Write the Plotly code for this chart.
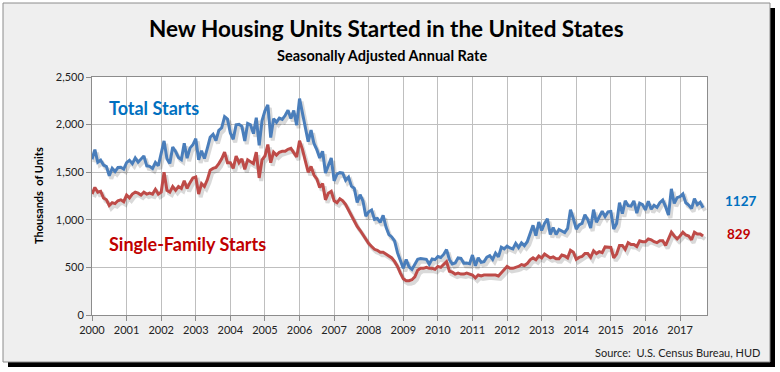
import plotly.graph_objects as go

# ---- data (thousands of units, SAAR), monthly Jan 2000 - Sep 2017 ----
total_starts = [
    1636, 1737, 1604, 1626, 1575, 1559, 1463, 1541, 1507, 1549, 1551, 1532,  # 2000
    1600, 1625, 1590, 1649, 1605, 1636, 1670, 1567, 1562, 1540, 1602, 1568,  # 2001
    1698, 1829, 1642, 1592, 1764, 1717, 1655, 1633, 1804, 1648, 1753, 1788,  # 2002
    1853, 1629, 1726, 1643, 1751, 1867, 1897, 1833, 1939, 1967, 2083, 2057,  # 2003
    1911, 1846, 1998, 2003, 1981, 1827, 2012, 1998, 1905, 2072, 1782, 2042,  # 2004
    2144, 2207, 1864, 2061, 2025, 2068, 2054, 2095, 2151, 2065, 2147, 1994,  # 2005
    2273, 2119, 1969, 1821, 1942, 1802, 1737, 1650, 1720, 1491, 1570, 1649,  # 2006
    1409, 1480, 1495, 1490, 1415, 1448, 1354, 1330, 1183, 1264, 1197, 1037,  # 2007
    1084, 1103, 1005, 1013, 973, 1046, 923, 844, 820, 777, 652, 560,         # 2008
    490, 582, 505, 478, 540, 585, 594, 586, 585, 534, 588, 581,              # 2009
    614, 604, 636, 687, 583, 536, 546, 599, 594, 543, 545, 539,              # 2010
    630, 517, 600, 554, 561, 608, 623, 585, 650, 610, 711, 694,              # 2011
    723, 704, 695, 753, 708, 757, 728, 770, 861, 942, 833, 976,              # 2012
    888, 962, 1010, 847, 919, 846, 899, 880, 867, 909, 1105, 1012,           # 2013
    902, 946, 962, 1052, 1002, 914, 1107, 974, 1029, 1090, 1035, 1083,       # 2014
    1087, 904, 961, 1180, 1064, 1199, 1148, 1144, 1199, 1070, 1174, 1159,    # 2015
    1104, 1194, 1111, 1152, 1130, 1180, 1207, 1138, 1049, 1325, 1172, 1233,  # 2016
    1244, 1272, 1179, 1155, 1118, 1223, 1159, 1183, 1127,                    # 2017
]
single_family_starts = [
    1270, 1340, 1290, 1300, 1230, 1210, 1150, 1180, 1170, 1200, 1210, 1190,  # 2000
    1260, 1230, 1270, 1290, 1280, 1260, 1290, 1270, 1280, 1270, 1320, 1270,  # 2001
    1290, 1500, 1310, 1290, 1350, 1310, 1350, 1330, 1410, 1330, 1390, 1440,  # 2002
    1450, 1270, 1380, 1350, 1420, 1520, 1540, 1550, 1590, 1640, 1710, 1600,  # 2003
    1600, 1540, 1670, 1600, 1640, 1530, 1630, 1610, 1590, 1710, 1440, 1630,  # 2004
    1670, 1790, 1600, 1710, 1680, 1710, 1720, 1720, 1740, 1750, 1710, 1660,  # 2005
    1830, 1740, 1620, 1500, 1560, 1470, 1430, 1340, 1380, 1210, 1280, 1300,  # 2006
    1200, 1180, 1220, 1200, 1160, 1100, 1040, 980, 930, 890, 840, 800,       # 2007
    750, 720, 690, 680, 660, 660, 640, 620, 600, 560, 510, 440,              # 2008
    380, 360, 360, 370, 400, 470, 490, 490, 500, 490, 490, 480,              # 2009
    510, 500, 530, 560, 460, 450, 430, 440, 430, 430, 440, 430,              # 2010
    420, 390, 420, 410, 420, 420, 420, 420, 420, 410, 440, 470,              # 2011
    510, 490, 490, 500, 510, 530, 520, 540, 580, 600, 580, 620,              # 2012
    600, 640, 620, 600, 610, 590, 590, 630, 620, 600, 680, 660,              # 2013
    585, 605, 615, 645, 645, 605, 675, 645, 665, 655, 715, 715,              # 2014
    710, 600, 640, 730, 730, 690, 760, 740, 740, 720, 780, 770,              # 2015
    770, 800, 790, 770, 760, 780, 780, 730, 800, 870, 830, 800,              # 2016
    830, 870, 840, 830, 790, 870, 850, 850, 829,                             # 2017
]
start_year = 2000
year_ticks = list(range(2000, 2018))
y_ticks = [0, 500, 1000, 1500, 2000, 2500]

months = [start_year + i / 12 for i in range(len(total_starts))]

W, H = 780, 372
L, R, T, B = 92, 73, 77, 57
pw, ph = W - L - R, H - T - B
X_SPAN = 17.78

def px(x):
    return (x - L) / pw

def py(y):
    return (H - B - y) / ph

BLUE = "#4a7ebb"
RED = "#be4b48"
GRID = "#bfbfbf"
FONT = "Lato"

fig = go.Figure()

# soft drop shadow under each line (offset by a couple of pixels)
dx = 2 / pw * X_SPAN
dy = 3 / ph * 2500
for ys in (total_starts, single_family_starts):
    fig.add_trace(go.Scatter(
        x=[m + dx for m in months], y=[v - dy for v in ys], mode="lines",
        line=dict(color="rgba(0,0,0,0.15)", width=4), hoverinfo="skip", showlegend=False))

fig.add_trace(go.Scatter(x=months, y=total_starts, mode="lines", name="Total Starts",
                         line=dict(color=BLUE, width=3), showlegend=False))
fig.add_trace(go.Scatter(x=months, y=single_family_starts, mode="lines", name="Single-Family Starts",
                         line=dict(color=RED, width=3), showlegend=False))

shapes = [
    # frame drop shadow
    dict(type="rect", xref="paper", yref="paper", x0=px(8), x1=px(775), y0=py(367), y1=py(8),
         fillcolor="black", line=dict(width=0), layer="below"),
    # frame
    dict(type="rect", xref="paper", yref="paper", x0=px(3), x1=px(770), y0=py(362), y1=py(3),
         fillcolor="#efefef", line=dict(color="#8c8c8c", width=1), layer="below"),
    # plot area
    dict(type="rect", xref="paper", yref="paper", x0=0, x1=1, y0=0, y1=1,
         fillcolor="white", line=dict(width=0), layer="below"),
]

annotations = [
    dict(text="<b>New Housing Units Started in the United States</b>", x=px(386), y=py(28),
         font=dict(size=22.5, color="black", family=FONT)),
    dict(text="<b>Seasonally Adjusted Annual Rate</b>", x=px(382), y=py(55),
         font=dict(size=14.5, color="black", family=FONT)),
    dict(text="<b>Thousands  of Units</b>", x=px(38), y=py(196), textangle=-90,
         font=dict(size=11, color="black", family=FONT)),
    dict(text="<b>Total Starts</b>", x=px(107), y=py(108), xanchor="left",
         font=dict(size=18, color="#0070c0", family=FONT)),
    dict(text="<b>Single-Family Starts</b>", x=px(107), y=py(244), xanchor="left",
         font=dict(size=18, color="#c00000", family=FONT)),
    dict(text="<b>%d</b>" % total_starts[-1], x=px(723), y=py(201), xanchor="left",
         font=dict(size=13.5, color="#0070c0", family=FONT)),
    dict(text="<b>%d</b>" % single_family_starts[-1], x=px(725), y=py(234), xanchor="left",
         font=dict(size=13.5, color="#c00000", family=FONT)),
    dict(text="Source:  U.S. Census Bureau, HUD", x=px(762), y=py(353), xanchor="right",
         font=dict(size=11, color="#222222", family=FONT)),
]
for a in annotations:
    a.setdefault("xref", "paper")
    a.setdefault("yref", "paper")
    a.setdefault("showarrow", False)
    a.setdefault("yanchor", "middle")
    a.setdefault("xanchor", "center")

fig.update_layout(
    width=W, height=H,
    margin=dict(l=L, r=R, t=T, b=B, pad=0),
    paper_bgcolor="white",
    plot_bgcolor="rgba(0,0,0,0)",
    shapes=shapes,
    annotations=annotations,
    font=dict(family=FONT, size=11, color="#222222"),
    xaxis=dict(
        range=[start_year, start_year + X_SPAN],
        tickmode="array", tickvals=year_ticks, ticktext=[str(y) for y in year_ticks],
        showgrid=True, gridcolor=GRID, gridwidth=1,
        showline=True, linecolor="#8c8c8c", linewidth=1, mirror=True,
        ticks="outside", ticklen=5, tickcolor="#8c8c8c",
        tickfont=dict(size=11, color="#222222", family=FONT),
        zeroline=False, fixedrange=True,
    ),
    yaxis=dict(
        range=[0, 2500],
        tickmode="array", tickvals=y_ticks, ticktext=[f"{v:,}" for v in y_ticks],
        showgrid=True, gridcolor=GRID, gridwidth=1,
        showline=True, linecolor="#8c8c8c", linewidth=1, mirror=True,
        ticks="outside", ticklen=5, tickcolor="#8c8c8c",
        tickfont=dict(size=11, color="#222222", family=FONT),
        zeroline=False, fixedrange=True,
    ),
)

fig.write_html("out.html", config={"displayModeBar": False},
               post_script="document.body.style.margin='0';document.body.style.overflow='hidden';")
